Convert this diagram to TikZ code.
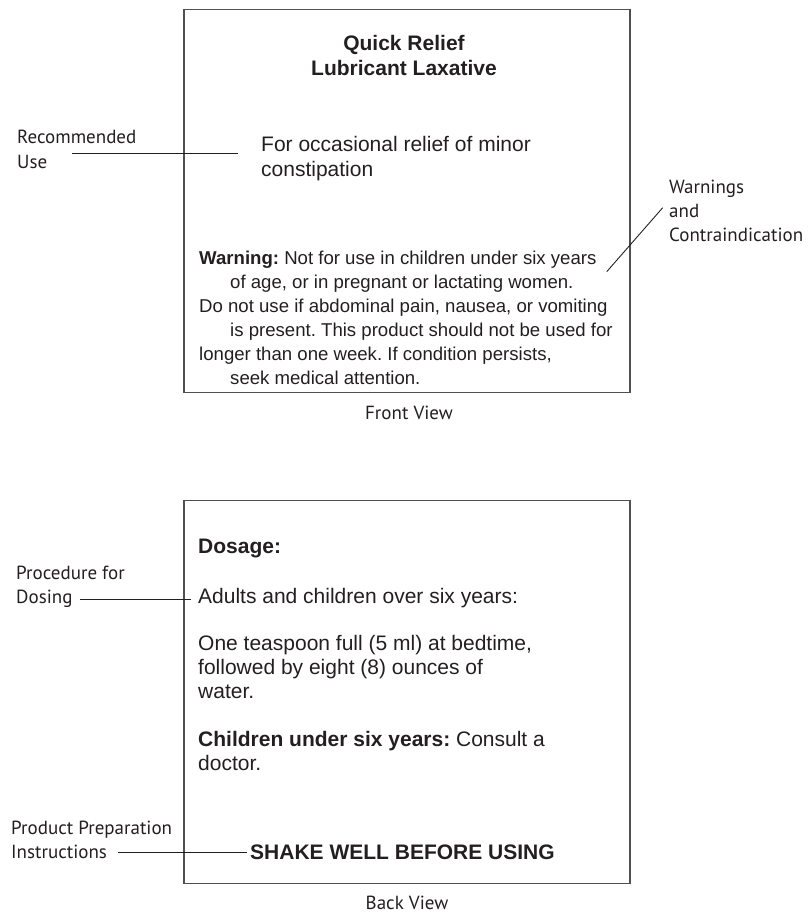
\documentclass[tikz,border=0pt]{standalone}
\usepackage{fontspec}
\setmainfont{Liberation Sans}
\newfontfamily\handfont{PT Sans}
\definecolor{ink}{HTML}{231F20}
\definecolor{rulegray}{HTML}{505050}
\frenchspacing
\tikzset{
  viewbox/.style={draw=rulegray, line width=1.4pt, inner sep=0pt, anchor=north west},
  lbl/.style={inner sep=0pt, anchor=base west, text=ink, font=\fontsize{21}{25}\selectfont},
  smalllbl/.style={lbl, font=\fontsize{18.6}{24}\selectfont},
  hand/.style={inner sep=0pt, anchor=base west, text=ink, font=\handfont\fontsize{19}{23}\selectfont},
  callout/.style={draw=ink, line width=0.9pt},
}
\begin{document}
\begin{tikzpicture}[x=1pt, y=-1pt]
	\useasboundingbox (0,0) rectangle (809,916);
	% front view
	\node[viewbox, minimum width=446pt, minimum height=383pt] (front) at (183.3,9) {};
	\node[lbl, anchor=base, font=\bfseries\fontsize{21}{25}\selectfont] (title1) at (404,50.5) {Quick Relief};
	\node[lbl, anchor=base, font=\bfseries\fontsize{21}{25}\selectfont] (title2) at (404,75.5) {Lubricant Laxative};
	\node[lbl] (use1) at (261,151.5) {For occasional relief of minor};
	\node[lbl] (use2) at (261,176.5) {constipation};
	\foreach \y/\dx/\t [count=\i] in {
		264.7/0/{\textbf{Warning:} Not for use in children under six years},
		288.7/31/{of age, or in pregnant or lactating women.},
		312.7/0/{Do not use if abdominal pain, nausea, or vomiting},
		336.7/31/{is present. This product should not be used for},
		360.7/0/{longer than one week. If condition persists,},
		384.7/31/{seek medical attention.}}
		\node[smalllbl] (warn\i) at (199+\dx,\y) {\t};
	\node[hand, anchor=base] (frontcap) at (409,419.7) {Front View};
	% notes, front
	\node[hand] (rec1) at (17,143.7) {Recommended};
	\node[hand] (rec2) at (17,168.7) {Use};
	\node[hand] (wc1) at (669,193.7) {Warnings};
	\node[hand] (wc2) at (669,217.7) {and};
	\node[hand] (wc3) at (669,241.7) {Contraindication};
	\coordinate (recA) at (72,153.7);
	\coordinate (recB) at (238,153.7);
	\draw[callout] (recA) -- (recB);
	\coordinate (wcA) at (606.7,271.7);
	\coordinate (wcB) at (662.7,207.7);
	\draw[callout] (wcA) -- (wcB);
	% back view
	\node[viewbox, minimum width=446pt, minimum height=383pt] (back) at (183.3,500) {};
	\node[lbl, font=\bfseries\fontsize{21}{25}\selectfont] (dose) at (198,553.5) {Dosage:};
	\node[lbl] (adults) at (198,603) {Adults and children over six years:};
	\node[lbl] (spoon1) at (198,650.5) {One teaspoon full (5 ml) at bedtime,};
	\node[lbl] (spoon2) at (198,674.5) {followed by eight (8) ounces of};
	\node[lbl] (spoon3) at (198,698.5) {water.};
	\node[lbl] (kids1) at (198,746.5) {\textbf{Children under six years:} Consult a};
	\node[lbl] (kids2) at (198,770.5) {doctor.};
	\node[lbl, font=\bfseries\fontsize{21}{25}\selectfont] (shake) at (250,859.5) {SHAKE WELL BEFORE USING};
	\node[hand, anchor=base] (backcap) at (407,909.7) {Back View};
	% notes, back
	\node[hand] (proc1) at (16,579.7) {Procedure for};
	\node[hand] (proc2) at (16,603.7) {Dosing};
	\node[hand] (prep1) at (11,834.7) {Product Preparation};
	\node[hand] (prep2) at (11,858.7) {Instructions};
	\draw[callout, shorten <=7pt, shorten >=7pt] (proc2.east) -- (proc2.east -| adults.west);
	\draw[callout, shorten <=11pt, shorten >=3pt] (prep2.east) -- (prep2.east -| shake.west);
\end{tikzpicture}
\end{document}
